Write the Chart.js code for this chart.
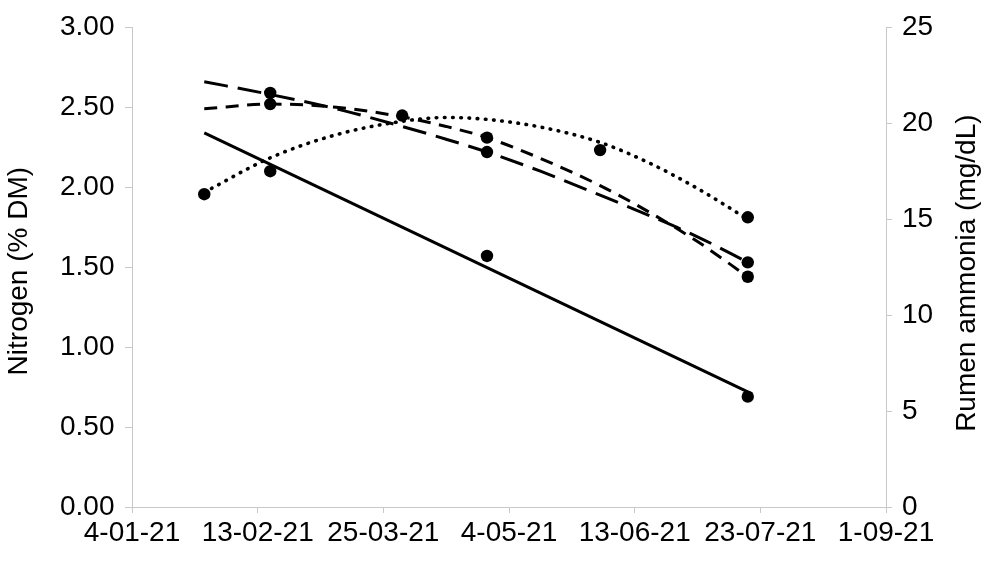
<!DOCTYPE html>
<html>
<head>
<meta charset="utf-8">
<script src="https://cdn.jsdelivr.net/npm/chart.js@4.4.1/dist/chart.umd.min.js"></script>
<style>
  html, body { margin: 0; padding: 0; background: #ffffff; }
  #wrap { width: 992px; height: 563px; position: relative; }
</style>
</head>
<body>
<div id="wrap"><canvas id="chart"></canvas></div>
<script>
// ---- Data (x values are days counted from 4-01-21) ----
const xTickLabels = ['4-01-21', '13-02-21', '25-03-21', '4-05-21', '13-06-21', '23-07-21', '1-09-21'];
const xDayRange = [0, 240];
const xDayStep = 40;

const yLeftTickLabels = ['0.00', '0.50', '1.00', '1.50', '2.00', '2.50', '3.00'];
const yLeftRange = [0, 3];
const yLeftStep = 0.5;
const yRightTickLabels = ['0', '5', '10', '15', '20', '25'];
const yRightRange = [0, 25];
const yRightStep = 5;

const yLeftTitle = 'Nitrogen (% DM)';
const yRightTitle = 'Rumen ammonia (mg/dL)';

// Nitrogen samples (% DM)
const nitrogenDays = [44, 113, 196];
const nitrogenLongDash = [2.59, 2.22, 1.53];
const nitrogenShortDash = [2.52, 2.31, 1.44];
const nitrogenSolid = [2.10, 1.57, 0.69];

// Rumen ammonia samples (mg/dL)
const ammoniaDays = [23, 86, 149, 196];
const ammoniaValues = [16.3, 20.4, 18.6, 15.1];

// Trend lines
const trendDays = [23, 44, 65, 86, 100, 113, 130, 149, 165, 180, 196];
const trendLongDash = [2.66, 2.58, 2.49, 2.38, 2.30, 2.22, 2.10, 1.95, 1.82, 1.69, 1.53];
const trendShortDash = [2.49, 2.52, 2.50, 2.44, 2.38, 2.31, 2.18, 2.01, 1.84, 1.66, 1.44];
const trendAmmonia = [16.4, 18.2, 19.4, 20.1, 20.3, 20.2, 19.8, 19.0, 17.9, 16.6, 15.0];
const trendSolidDays = [23, 196];
const trendSolid = [2.34, 0.72];

// ---- Helpers ----
const pts = (xs, ys) => xs.map((x, i) => ({ x: x, y: ys[i] }));
const FONT = '"Liberation Sans", Arial, Helvetica, sans-serif';
const AXIS_GRAY = '#c8c8c8';
const INK = '#000000';

function trend(data, dash, axis, width, cap) {
  return {
    type: 'scatter',
    data: data,
    yAxisID: axis,
    showLine: true,
    borderColor: INK,
    backgroundColor: INK,
    borderWidth: width,
    borderDash: dash,
    borderCapStyle: cap,
    pointRadius: 0,
    pointHoverRadius: 0,
    cubicInterpolationMode: 'monotone',
    fill: false
  };
}
function markers(data, axis) {
  return {
    type: 'scatter',
    data: data,
    yAxisID: axis,
    showLine: false,
    pointStyle: 'circle',
    pointRadius: 6.2,
    pointHoverRadius: 6.2,
    pointBackgroundColor: INK,
    pointBorderColor: INK,
    pointBorderWidth: 0
  };
}

const axisTitles = {
  id: 'axisTitles',
  afterDraw(chart) {
    const { ctx, chartArea, scales } = chart;
    const cy = (chartArea.top + chartArea.bottom) / 2;
    ctx.save();
    ctx.font = '28px ' + FONT;
    ctx.fillStyle = INK;
    ctx.textAlign = 'center';
    ctx.textBaseline = 'middle';
    ctx.translate(scales.y.left + 19, cy + 4);
    ctx.rotate(-Math.PI / 2);
    ctx.fillText(yLeftTitle, 0, 0);
    ctx.restore();
    ctx.save();
    ctx.font = '28px ' + FONT;
    ctx.fillStyle = INK;
    ctx.textAlign = 'center';
    ctx.textBaseline = 'middle';
    ctx.translate(scales.y1.right - 25, cy + 6);
    ctx.rotate(-Math.PI / 2);
    ctx.fillText(yRightTitle, 0, 0);
    ctx.restore();
  }
};

const tickFont = { family: FONT, size: 28 };

new Chart(document.getElementById('chart'), {
  type: 'scatter',
  data: {
    datasets: [
      trend(pts(trendDays, trendLongDash), [24, 10], 'y', 3, 'butt'),
      trend(pts(trendDays, trendShortDash), [13, 8.5], 'y', 3, 'butt'),
      trend(pts(trendSolidDays, trendSolid), [], 'y', 3, 'butt'),
      trend(pts(trendDays, trendAmmonia), [0.6, 7.6], 'y1', 3.6, 'round'),
      markers(pts(nitrogenDays, nitrogenLongDash), 'y'),
      markers(pts(nitrogenDays, nitrogenShortDash), 'y'),
      markers(pts(nitrogenDays, nitrogenSolid), 'y'),
      markers(pts(ammoniaDays, ammoniaValues), 'y1')
    ]
  },
  options: {
    responsive: true,
    maintainAspectRatio: false,
    animation: false,
    events: [],
    layout: { padding: { top: 25, right: 0, bottom: 0, left: 0 } },
    plugins: {
      legend: { display: false },
      tooltip: { enabled: false },
      title: { display: false }
    },
    scales: {
      x: {
        type: 'linear',
        position: 'bottom',
        min: xDayRange[0],
        max: xDayRange[1],
        afterFit: (s) => { s.height = 56; },
        ticks: {
          stepSize: xDayStep,
          autoSkip: false,
          maxRotation: 0,
          minRotation: 0,
          padding: 3,
          color: INK,
          font: tickFont,
          callback: (v, i) => xTickLabels[i]
        },
        grid: { display: true, drawOnChartArea: false, drawTicks: true, tickLength: 6, color: AXIS_GRAY, lineWidth: 1 },
        border: { display: true, color: AXIS_GRAY, width: 1 }
      },
      y: {
        type: 'linear',
        position: 'left',
        min: yLeftRange[0],
        max: yLeftRange[1],
        afterFit: (s) => { s.width = 132; },
        ticks: {
          stepSize: yLeftStep,
          padding: 10.5,
          color: INK,
          font: tickFont,
          callback: (v, i) => yLeftTickLabels[i]
        },
        grid: { display: true, drawOnChartArea: false, drawTicks: true, tickLength: 7, color: AXIS_GRAY, lineWidth: 1 },
        border: { display: true, color: AXIS_GRAY, width: 1 }
      },
      y1: {
        type: 'linear',
        position: 'right',
        min: yRightRange[0],
        max: yRightRange[1],
        afterFit: (s) => { s.width = 106; },
        ticks: {
          stepSize: yRightStep,
          padding: 10,
          color: INK,
          font: tickFont,
          callback: (v, i) => yRightTickLabels[i]
        },
        grid: { display: true, drawOnChartArea: false, drawTicks: true, tickLength: 6, color: AXIS_GRAY, lineWidth: 1 },
        border: { display: true, color: AXIS_GRAY, width: 1 }
      }
    }
  },
  plugins: [axisTitles]
});
</script>
</body>
</html>
